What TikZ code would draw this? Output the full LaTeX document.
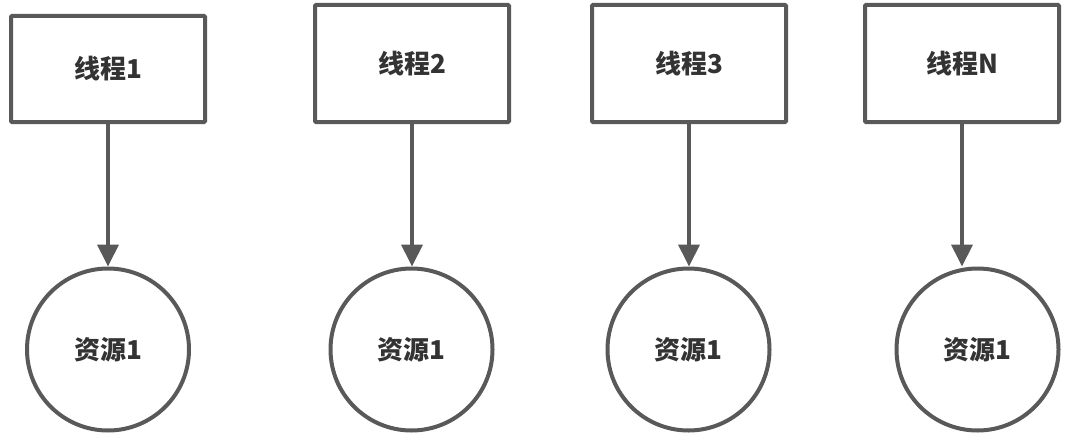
\documentclass[tikz,border=0pt]{standalone}
\usepackage{fontspec}
\setmainfont{Noto Sans CJK SC}
\usetikzlibrary{arrows.meta}
\definecolor{linec}{HTML}{595959}
\definecolor{textc}{HTML}{333333}
\begin{document}
\begin{tikzpicture}[x=1pt,y=-1pt,
  thread/.style={draw=linec,line width=4pt,rounded corners=1pt,minimum width=194pt,minimum height=106pt,inner sep=0pt,font=\fontsize{26}{30}\selectfont\bfseries,text=textc},
  thread2/.style={thread,minimum height=117pt},
  res/.style={circle,draw=linec,line width=4pt,minimum size=162pt,inner sep=0pt,font=\fontsize{26}{30}\selectfont\bfseries,text=textc},
  conn/.style={draw=linec,line width=4pt,-{Triangle[length=22pt,width=21pt]}}]
\useasboundingbox (0,0) rectangle (1070,436);
\node[thread] (t1) at (108,69) {线程1};
\node[thread2] (t2) at (412,63.5) {线程2};
\node[thread2] (t3) at (689,63.5) {线程3};
\node[thread2] (t4) at (962,63.5) {线程N};
\node[res] (r1) at (108,349.5) {资源1};
\node[res] (r2) at (411.5,349.5) {资源1};
\node[res] (r3) at (688.5,349.5) {资源1};
\node[res] (r4) at (977.5,349.5) {资源1};
\draw[conn] (t1) -- (r1);
\draw[conn] (t2.south) -- (t2.south |- r2.north);
\draw[conn] (t3.south) -- (t3.south |- r3.north);
\draw[conn] (t4.south) -- (t4.south |- r4.north);
\end{tikzpicture}
\end{document}
